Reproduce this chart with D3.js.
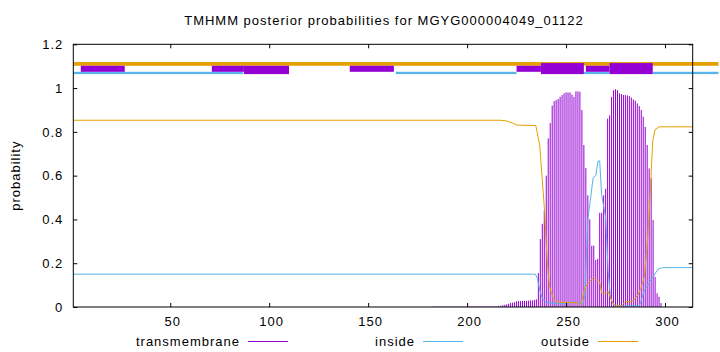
<!DOCTYPE html>
<html lang="en">
<head>
  <meta charset="UTF-8">
  <title>TMHMM posterior probabilities</title>
  <style>
    body { margin: 0; background: #fff; }
    text { font-family: 'Liberation Sans', Arial, sans-serif; font-size: 13px; fill: #000; }
    .label { letter-spacing: 1px; }
  </style>
</head>
<body>
  <div id="chart"></div>
  <script src="https://cdnjs.cloudflare.com/ajax/libs/d3/7.8.5/d3.min.js"></script>
  <script>
    // Sequence length and axis ticks
    let seqStart = 1;
    let seqEnd = 314;
    let xTicks = [50, 100, 150, 200, 250, 300];
    let yTicks = [0, 0.2, 0.4, 0.6, 0.8, 1, 1.2];

    // Transmembrane posterior per residue, starting at tmStart
    let tmStart = 183;
    let tmVals = [
      0.002, 0.002, 0.002, 0.002, 0.002, 0.002, 0.002, 0.002, 0.002, 0.002,
      0.002, 0.002, 0.002, 0.002, 0.002, 0.002, 0.002, 0.002, 0.003, 0.003,
      0.003, 0.003, 0.003, 0.003, 0.003, 0.003, 0.003, 0.003, 0.003, 0.003,
      0.003, 0.003, 0.003, 0.005, 0.006, 0.008, 0.01, 0.012, 0.015, 0.018,
      0.02, 0.022, 0.026, 0.027, 0.027, 0.028, 0.028, 0.028, 0.029, 0.03,
      0.03, 0.032, 0.035, 0.155, 0.31, 0.38, 0.44, 0.6, 0.77, 0.84,
      0.92, 0.94, 0.945, 0.95, 0.96, 0.968, 0.976, 0.98, 0.98, 0.98,
      0.97, 0.96, 0.985, 0.985, 0.983, 0.9, 0.74, 0.635, 0.51, 0.4,
      0.28, 0.28, 0.215, 0.22, 0.43, 0.43, 0.51, 0.54, 0.86, 0.875,
      0.96, 0.99, 0.995, 0.99, 0.976, 0.973, 0.968, 0.968, 0.966, 0.963,
      0.957, 0.948, 0.942, 0.93, 0.918, 0.9, 0.869, 0.823, 0.74, 0.633,
      0.588, 0.397, 0.138, 0.063, 0.047, 0.018
    ];

    // Inside / outside posterior, read at breakpoints
    let insidePos = [1, 234.5, 235.5, 236.7, 238, 240, 245, 250, 254, 256, 258.5, 259.5, 261, 263.7, 265, 266.2, 267, 268, 270, 271.3, 272.5, 274, 277, 287, 288, 289.6, 291.3, 293, 294.6, 296.3, 298.8, 314];
    let insideVal = [0.15, 0.15, 0.13, 0.078, 0.04, 0.02, 0.015, 0.015, 0.025, 0.015, 0.015, 0.05, 0.4, 0.59, 0.6, 0.667, 0.667, 0.51, 0.41, 0.16, 0.04, 0.01, 0.005, 0.005, 0.03, 0.078, 0.1, 0.123, 0.146, 0.172, 0.18, 0.18];

    let outsidePos = [1, 216.6, 219.8, 223.2, 225, 234.7, 236.7, 238.4, 239.3, 240.1, 241, 241.8, 243.5, 245, 250, 255, 257, 258, 259.5, 261.2, 263.7, 265.4, 267, 268, 270.4, 271.3, 273, 274.7, 278, 280, 282, 284, 286.3, 288, 289.6, 291.3, 292.6, 293.8, 295, 297, 314];
    let outsideVal = [0.853, 0.853, 0.85, 0.84, 0.831, 0.829, 0.74, 0.53, 0.42, 0.27, 0.15, 0.09, 0.04, 0.025, 0.02, 0.02, 0.01, 0.03, 0.087, 0.11, 0.134, 0.123, 0.115, 0.063, 0.063, 0.07, 0.03, 0.005, 0.005, 0.024, 0.024, 0.03, 0.055, 0.09, 0.14, 0.32, 0.53, 0.76, 0.81, 0.823, 0.823];

    // Topology strip above the curves: [start, end] in residues
    let outsideBand = [[1, 327]];
    let insideBand = [[1, 86.7], [164, 225], [259, 272], [294, 327]];
    let tmSmall = [[4.8, 27], [71, 87.2], [140.7, 163], [225, 237.3], [260, 272]];
    let tmBigLow = [[87.2, 110]];
    let tmBig = [[237.3, 259], [272, 293.8]];

    let legendNames = ['transmembrane', 'inside', 'outside'];
    let colors = { tm: '#9400d3', inside: '#56b4e9', outside: '#e69f00' };

    let W = 720, H = 352;
    let margin = { top: 44.3, right: 27.3, bottom: 45, left: 73.3 };

    let svg = d3.select('#chart').append('svg')
      .attr('width', W)
      .attr('height', H);

    let x = d3.scaleLinear().domain([seqStart, seqEnd]).range([margin.left, W - margin.right]);
    let y = d3.scaleLinear().domain([0, 1.2]).range([H - margin.bottom, margin.top]);

    // Title and y label
    svg.append('text')
      .attr('class', 'label')
      .attr('x', 384).attr('y', 25)
      .attr('text-anchor', 'middle')
      .text('TMHMM posterior probabilities for MGYG000004049_01122');

    svg.append('text')
      .attr('class', 'label')
      .attr('transform', `translate(20, ${(y(0) + y(1.2)) / 2}) rotate(-90)`)
      .attr('text-anchor', 'middle')
      .text('probability');

    // Impulses for transmembrane
    svg.append('g').selectAll('line')
      .data(tmVals).enter()
      .append('line')
      .attr('x1', (d, i) => x(tmStart + i))
      .attr('x2', (d, i) => x(tmStart + i))
      .attr('y1', y(0))
      .attr('y2', d => y(d))
      .attr('stroke', colors.tm)
      .attr('stroke-width', 1);

    let line = d3.line().x(d => x(d[0])).y(d => y(d[1]));

    svg.append('path')
      .datum(d3.zip(insidePos, insideVal))
      .attr('d', line)
      .attr('fill', 'none')
      .attr('stroke', colors.inside)
      .attr('stroke-width', 1);

    svg.append('path')
      .datum(d3.zip(outsidePos, outsideVal))
      .attr('d', line)
      .attr('fill', 'none')
      .attr('stroke', colors.outside)
      .attr('stroke-width', 1);

    // Topology strip
    function band(data, top, bottom, color) {
      svg.append('g').selectAll('rect')
        .data(data).enter()
        .append('rect')
        .attr('x', d => x(d[0]))
        .attr('width', d => x(d[1]) - x(d[0]))
        .attr('y', y(top))
        .attr('height', y(bottom) - y(top))
        .attr('fill', color);
    }
    band(outsideBand, 1.119, 1.102, colors.outside);
    band(insideBand, 1.0744, 1.0639, colors.inside);
    band(tmSmall, 1.102, 1.0744, colors.tm);
    band(tmBigLow, 1.102, 1.0639, colors.tm);
    band(tmBig, 1.1142, 1.0639, colors.tm);

    // Axes with inward ticks, mirrored
    let xAxis = svg.append('g')
      .attr('transform', `translate(0, ${y(0)})`)
      .call(d3.axisBottom(x).tickValues(xTicks).tickSizeInner(-4).tickSizeOuter(0).tickPadding(10));
    let xTop = svg.append('g')
      .attr('transform', `translate(0, ${y(1.2)})`)
      .call(d3.axisTop(x).tickValues(xTicks).tickSizeInner(-4).tickSizeOuter(0).tickFormat(''));
    let yAxis = svg.append('g')
      .attr('transform', `translate(${x(seqStart)}, 0)`)
      .call(d3.axisLeft(y).tickValues(yTicks).tickSizeInner(-4).tickSizeOuter(0).tickPadding(10).tickFormat(d3.format('~g')));
    let yRight = svg.append('g')
      .attr('transform', `translate(${x(seqEnd)}, 0)`)
      .call(d3.axisRight(y).tickValues(yTicks).tickSizeInner(-4).tickSizeOuter(0).tickFormat(''));

    [xAxis, xTop, yAxis, yRight].forEach(g => {
      g.select('.domain').remove();
      g.selectAll('text').style('font-size', '13px').attr('fill', '#000')
        .style('font-family', "'Liberation Sans', Arial, sans-serif")
        .style('letter-spacing', '1px');
      g.selectAll('line').attr('stroke', '#000');
    });
    xAxis.selectAll('text').attr('dx', 2);

    svg.append('rect')
      .attr('x', x(seqStart)).attr('y', y(1.2))
      .attr('width', x(seqEnd) - x(seqStart))
      .attr('height', y(0) - y(1.2))
      .attr('fill', 'none')
      .attr('stroke', '#000')
      .attr('stroke-width', 1);

    // Legend along the bottom
    let legendEnds = [288, 463, 638];
    let legendColors = [colors.tm, colors.inside, colors.outside];
    let legend = svg.selectAll('.legend')
      .data(legendNames).enter()
      .append('g')
      .attr('class', 'legend');

    legend.append('text')
      .attr('class', 'label')
      .attr('x', (d, i) => legendEnds[i] - 48)
      .attr('y', 346)
      .attr('text-anchor', 'end')
      .text(d => d);

    legend.append('line')
      .attr('x1', (d, i) => legendEnds[i] - 40)
      .attr('x2', (d, i) => legendEnds[i])
      .attr('y1', 341.5).attr('y2', 341.5)
      .attr('stroke', (d, i) => legendColors[i])
      .attr('stroke-width', 1);
  </script>
</body>
</html>
